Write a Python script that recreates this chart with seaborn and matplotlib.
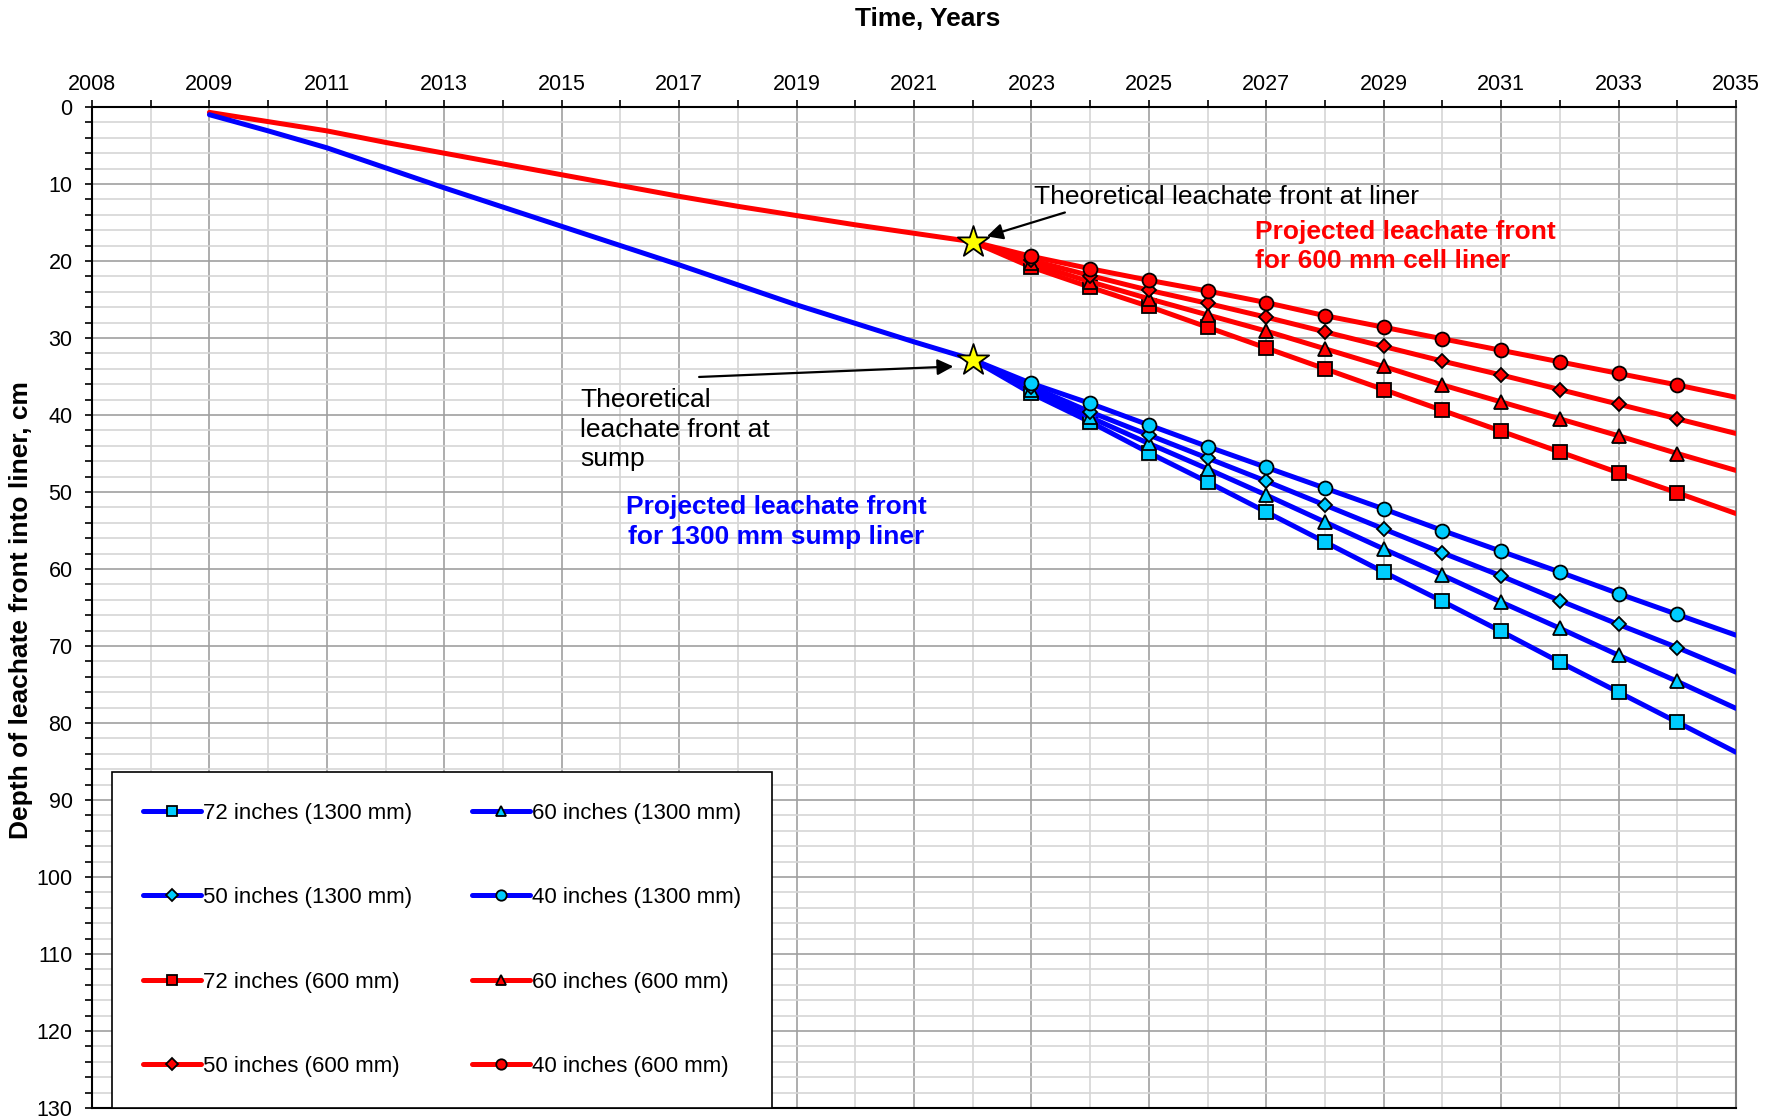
import matplotlib
matplotlib.use("Agg")
import matplotlib.pyplot as plt
from matplotlib.ticker import MultipleLocator, FixedLocator
import seaborn as sns

# measured history (2009-2022)
hist_years = list(range(2009, 2023))
red_hist = [0.7, 1.9, 3.1, 4.6, 6.0, 7.4, 8.8, 10.2, 11.6, 12.9, 14.1, 15.3, 16.4, 17.5]
blue_hist = [1.0, 3.1, 5.3, 7.9, 10.5, 13.0, 15.5, 18.0, 20.5, 23.1, 25.7, 28.1, 30.5, 32.8]

# projections (start at 2022 star, markers 2023-2034)
proj_years = list(range(2022, 2036))
blue_72 = [32.8, 37.2, 40.9, 44.9, 48.7, 52.6, 56.5, 60.4, 64.2, 68.1, 72.1, 76.0, 79.9, 83.8]
blue_60 = [32.8, 36.7, 40.3, 43.7, 47.0, 50.4, 53.9, 57.4, 60.8, 64.3, 67.7, 71.2, 74.6, 78.1]
blue_50 = [32.8, 36.3, 39.6, 42.6, 45.6, 48.6, 51.7, 54.8, 57.9, 60.9, 64.1, 67.2, 70.2, 73.4]
blue_40 = [32.8, 35.9, 38.5, 41.3, 44.1, 46.8, 49.5, 52.2, 55.0, 57.7, 60.4, 63.2, 65.9, 68.6]
red_72 = [17.5, 20.8, 23.4, 25.9, 28.6, 31.3, 34.0, 36.7, 39.4, 42.1, 44.8, 47.5, 50.1, 52.8]
red_60 = [17.5, 20.3, 22.7, 24.9, 27.0, 29.1, 31.4, 33.7, 36.1, 38.3, 40.5, 42.7, 45.0, 47.2]
red_50 = [17.5, 19.9, 21.9, 23.8, 25.5, 27.3, 29.2, 31.1, 33.0, 34.8, 36.7, 38.6, 40.5, 42.4]
red_40 = [17.5, 19.4, 21.0, 22.5, 23.9, 25.4, 27.1, 28.6, 30.1, 31.6, 33.1, 34.6, 36.1, 37.7]

labels = ["72 inches (1300 mm)", "60 inches (1300 mm)", "50 inches (1300 mm)", "40 inches (1300 mm)",
          "72 inches (600 mm)", "60 inches (600 mm)", "50 inches (600 mm)", "40 inches (600 mm)"]

star_years = [2022, 2022]
star_depths = [red_hist[-1], blue_hist[-1]]

x_tick_pos = list(range(2007, 2036, 2))
x_tick_labels = ["2008"] + [str(y) for y in range(2009, 2036, 2)]

sns.set_theme(style="white")
plt.rcParams["font.family"] = ["Liberation Sans", "DejaVu Sans"]
plt.rcParams["text.color"] = "black"
plt.rcParams["axes.labelcolor"] = "black"
plt.rcParams["xtick.color"] = "black"
plt.rcParams["ytick.color"] = "black"

fig = plt.figure(figsize=(17.81, 11.2), dpi=100)
ax = fig.add_axes([92 / 1781, 12 / 1120, 1644 / 1781, 1001 / 1120])

sns.lineplot(x=hist_years, y=red_hist, color="#ff0000", lw=3.6, ax=ax, zorder=3)
sns.lineplot(x=hist_years, y=blue_hist, color="#0000ff", lw=3.6, ax=ax, zorder=3)

series = [
    (blue_72, "#0000ff", "#00ccff", "s", 9.5),
    (blue_60, "#0000ff", "#00ccff", "^", 10),
    (blue_50, "#0000ff", "#00ccff", "D", 7.5),
    (blue_40, "#0000ff", "#00ccff", "o", 10),
    (red_72, "#ff0000", "#ff0000", "s", 9.5),
    (red_60, "#ff0000", "#ff0000", "^", 10),
    (red_50, "#ff0000", "#ff0000", "D", 7.5),
    (red_40, "#ff0000", "#ff0000", "o", 10),
]
handles = []
for vals, lc, fc, mk, ms in series:
    sns.lineplot(x=proj_years, y=vals, color=lc, lw=3.6, marker=mk, markersize=ms,
                 markerfacecolor=fc, markeredgecolor="black", markeredgewidth=1.3,
                 markevery=list(range(1, 13)), ax=ax, zorder=4, legend=False)
    handles.append(ax.lines[-1])

sns.scatterplot(x=star_years, y=star_depths, marker="*", s=560, color="#ffff00",
                edgecolor="black", linewidth=1.3, ax=ax, zorder=6, legend=False)

ax.set_xlim(2007, 2035)
ax.set_ylim(130, 0)
ax.xaxis.set_major_locator(FixedLocator(x_tick_pos))
ax.set_xticklabels(x_tick_labels)
ax.xaxis.set_minor_locator(MultipleLocator(1))
ax.yaxis.set_major_locator(MultipleLocator(10))
ax.yaxis.set_minor_locator(MultipleLocator(2))

ax.tick_params(axis="x", which="both", top=True, bottom=False, labeltop=True, labelbottom=False,
               direction="out", length=5, width=1.2, color="black", labelsize=15.5, pad=4)
ax.tick_params(axis="y", which="both", left=True, direction="out", length=5, width=1.2,
               color="black", labelsize=15.5, pad=9)

ax.grid(which="major", color="#a0a0a0", lw=1.2)
ax.grid(which="minor", color="#d6d6d6", lw=1.2)
ax.set_axisbelow(True)

for s in ["left", "top", "bottom"]:
    ax.spines[s].set_color("black")
    ax.spines[s].set_linewidth(1.5)
ax.spines["right"].set_color("#808080")
ax.spines["right"].set_linewidth(1.5)

ax.xaxis.set_label_position("top")
ax.set_xlabel("Time, Years", fontsize=19, fontweight="bold")
ax.xaxis.set_label_coords(836 / 1644, 1 + 88 / 1001)
ax.xaxis.label.set_va("center")
ax.set_ylabel("Depth of leachate front into liner, cm", fontsize=19, fontweight="bold")
ax.yaxis.set_label_coords(-71 / 1644, 0.497)
ax.yaxis.label.set_va("center")

arrow = dict(arrowstyle="-|>", color="black", lw=1.6, mutation_scale=24, shrinkA=0, shrinkB=0)
ax.annotate("", xy=(2022.24, 16.8), xytext=(2023.57, 13.7), arrowprops=arrow, zorder=7)
ax.annotate("", xy=(2021.67, 33.7), xytext=(2017.34, 35.06), arrowprops=arrow, zorder=7)

ax.text(2023.04, 11.66, "Theoretical leachate front at liner", fontsize=19,
        ha="left", va="center")
ax.text(2015.31, 41.9, "Theoretical\nleachate front at\nsump", fontsize=19,
        ha="left", va="center", linespacing=1.3)
ax.text(2026.81, 18.1, "Projected leachate front\nfor 600 mm cell liner", fontsize=19,
        fontweight="bold", color="#ff0000", ha="left", va="center", linespacing=1.28)
ax.text(2018.66, 53.9, "Projected leachate front\nfor 1300 mm sump liner", fontsize=19,
        fontweight="bold", color="#0000ff", ha="center", va="center", linespacing=1.28,
        multialignment="center")

order = [0, 2, 4, 6, 1, 3, 5, 7]
leg = ax.legend([handles[i] for i in order], [labels[i] for i in order], ncol=2,
                loc="lower left", bbox_to_anchor=(20 / 1644, 0.0), borderaxespad=0,
                fontsize=16, frameon=True, fancybox=False, edgecolor="black",
                framealpha=1, handlelength=2.6, handletextpad=0.1, labelspacing=2.85,
                columnspacing=2.7, borderpad=1.4, markerscale=0.75)
leg.get_frame().set_linewidth(1.2)
leg.set_zorder(10)

fig.savefig("out.png", dpi=100)
